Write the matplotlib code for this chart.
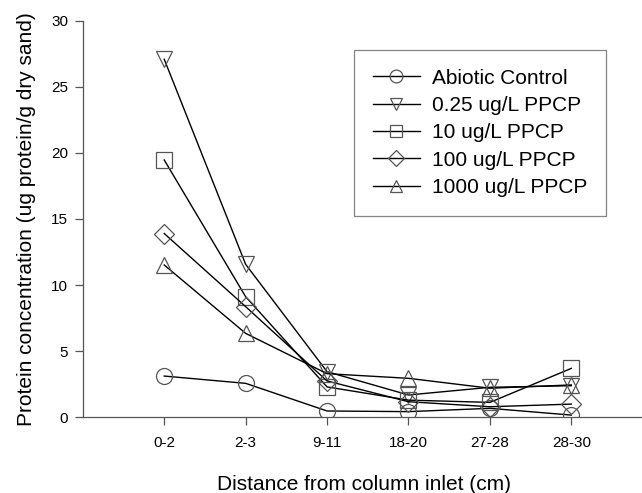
import matplotlib.pyplot as plt
import numpy as np

plt.rcParams['font.family'] = ['Liberation Sans', 'DejaVu Sans']

categories = ['0-2', '2-3', '9-11', '18-20', '27-28', '28-30']
abiotic = [3.12, 2.57, 0.48, 0.43, 0.68, 0.17]
ppcp_025 = [27.08, 11.57, 3.45, 1.69, 2.27, 2.39]
ppcp_10 = [19.46, 9.12, 2.3, 1.3, 1.13, 3.7]
ppcp_100 = [13.9, 8.37, 2.75, 1.18, 0.8, 1.0]
ppcp_1000 = [11.52, 6.35, 3.3, 2.95, 2.2, 2.45]

series = [
    ('Abiotic Control', abiotic, 'o'),
    ('0.25 ug/L PPCP', ppcp_025, 'v'),
    ('10 ug/L PPCP', ppcp_10, 's'),
    ('100 ug/L PPCP', ppcp_100, 'D'),
    ('1000 ug/L PPCP', ppcp_1000, '^'),
]

fig = plt.figure(figsize=(6.42, 4.93), dpi=100)
ax = fig.add_axes([0.129, 0.1535, 0.875, 0.8047])

x = np.arange(1, len(categories) + 1)
for label, vals, m in series:
    ms = 10.5 if m == 'D' else 11.5
    ax.plot(x, vals, color='black', linewidth=1.0, marker=m, markersize=ms,
            markerfacecolor='none', markeredgecolor='#555555', markeredgewidth=0.9,
            label=label)

ax.set_xlim(0, 6.9)
ax.set_ylim(0, 30)
ax.set_xticks(x)
ax.set_xticklabels(categories)
ax.set_yticks(range(0, 31, 5))
ax.tick_params(direction='out', length=5.5, width=0.9, color='#555555', labelsize=11)
ax.tick_params(axis='x', pad=8)
ax.tick_params(axis='y', pad=5)
for s in ['top', 'right']:
    ax.spines[s].set_visible(False)
for s in ['left', 'bottom']:
    ax.spines[s].set_color('#555555')
    ax.spines[s].set_linewidth(0.9)

ax.set_xlabel('Distance from column inlet (cm)', fontsize=15, labelpad=18)
ax.set_ylabel('Protein concentration (ug protein/g dry sand)', fontsize=15, labelpad=11)

leg = ax.legend(loc='upper right', bbox_to_anchor=(606 / 642, 1 - 50 / 493),
                bbox_transform=fig.transFigure, borderaxespad=0, fontsize=15,
                frameon=True, fancybox=False, edgecolor='#666666', markerscale=0.8,
                handlelength=2.3, borderpad=0.9, labelspacing=0.4, handletextpad=0.55)
leg.get_frame().set_linewidth(0.9)

fig.savefig('out.png', dpi=100)
